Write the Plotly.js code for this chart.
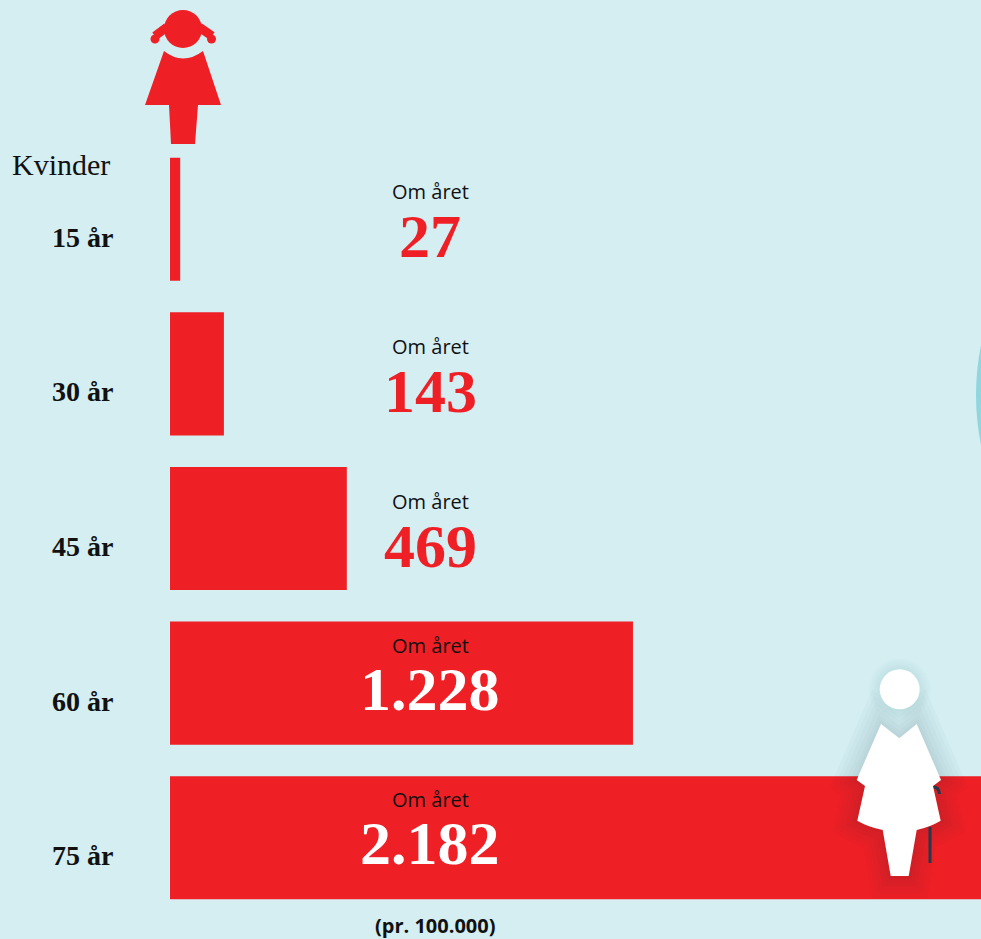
<!DOCTYPE html>
<html>
<head>
<meta charset="utf-8">
<script src="https://cdn.plot.ly/plotly-3.0.1.min.js"></script>
<style>html,body{margin:0;padding:0;background:#D4EEF2;overflow:hidden}#c{width:981px;height:939px}</style>
</head>
<body>
<div id="c"></div>
<script>
const ageLabels = ["15 år", "30 år", "45 år", "60 år", "75 år"];
const casesPerYear = [27, 143, 469, 1228, 2182];
const valueLabels = ["27", "143", "469", "1.228", "2.182"];
const subLabel = "Om året";
const groupLabel = "Kvinder";
const unitLabel = "(pr. 100.000)";

const W = 981, H = 939, L = 170, T = 142, B = 24;
const RED = "#EF1F26", BG = "#D4EEF2";
const SERIF = "'DejaVu Serif', serif", LIB = "'Liberation Serif', serif", SANS = "'Open Sans', sans-serif";
const px = x => (x - L) / (W - L);
const py = y => 1 - (y - T) / (H - T - B);
const path = s => s.replace(/(-?\d+\.?\d*),(-?\d+\.?\d*)/g, (m, a, b) => px(+a) + "," + py(+b));
const pathShape = (s, fill, extra) => Object.assign({type: "path", xref: "paper", yref: "paper", path: path(s), fillcolor: fill, line: {width: 0}}, extra || {});
const circle = (cx, cy, r, fill, extra) => Object.assign({type: "circle", xref: "paper", yref: "paper", x0: px(cx - r), x1: px(cx + r), y0: py(cy + r), y1: py(cy - r), fillcolor: fill, line: {width: 0}}, extra || {});

const xMax = (W - L) / 0.377;
const labelX = 690;

const annotations = [];
ageLabels.forEach((a, i) => {
  const inside = casesPerYear[i] >= 1000;
  annotations.push({xref: "paper", x: px(50), yref: "y", y: a, yshift: -18, xanchor: "left", yanchor: "middle", showarrow: false,
    text: "<b>" + a + "</b>", font: {family: LIB, size: 28, color: "#111"}});
  annotations.push({xref: "x", x: labelX, yref: "y", y: a, yshift: inside ? 38 : 27.5, xanchor: "center", yanchor: "middle", showarrow: false,
    text: subLabel, font: {family: SANS, size: 20, color: "#111"}});
  annotations.push({xref: "x", x: labelX, yref: "y", y: a, yshift: inside ? -5.5 : -17, xanchor: "center", yanchor: "middle", showarrow: false,
    text: "<b>" + valueLabels[i] + "</b>", font: {family: LIB, size: 62, color: inside ? "#FFFFFF" : RED}});
});
annotations.push({xref: "paper", x: px(10), yref: "paper", y: py(164), xanchor: "left", yanchor: "middle", showarrow: false,
  text: groupLabel, font: {family: LIB, size: 30, color: "#111"}});
annotations.push({xref: "paper", x: px(435), yref: "paper", y: py(925), xanchor: "center", yanchor: "middle", showarrow: false,
  text: "<b>" + unitLabel + "</b>", font: {family: SANS, size: 20, color: "#111"}});

const womanBody = "M881,724 L899.3,738.3 L916.7,724 L941,780 L933,786 L940.7,820.7 Q930,827 916.7,830 L908.7,876 L890.7,876 L882.7,830 Q868,827 857.3,820.7 L865,786 L856.7,780 Z";
const shapes = [];
shapes.push(pathShape("M981,345 Q971,395 981,445 Z", "#8FD6DF"));
// soft shadow around the standing figure
[44, 36, 28, 20, 12, 6].forEach(w => {
  shapes.push(pathShape(womanBody, "rgba(0,0,0,0)", {line: {width: w, color: "rgba(20,50,60,0.018)"}}));
  shapes.push(circle(899.7, 689.3, 20 + w / 4, "rgba(20,50,60,0.012)"));
});
// girl
shapes.push(circle(183, 29, 19, RED));
shapes.push(pathShape("M167,27 L155,36", "rgba(0,0,0,0)", {line: {width: 9, color: RED}}));
shapes.push(pathShape("M199,27 L212,36", "rgba(0,0,0,0)", {line: {width: 9, color: RED}}));
shapes.push(circle(155, 39, 4.5, RED));
shapes.push(circle(211.5, 39, 4.5, RED));
shapes.push(pathShape("M164,51 Q183,66 203,51 L221,105 L198,105 L195,144 L171,144 L169,105 L145,105 Z", RED));
// woman with cane
shapes.push(pathShape("M930,827 L930,863", "rgba(0,0,0,0)", {line: {width: 3, color: "#24394A"}}));
shapes.push(pathShape("M933,787 Q939,787 939.5,794", "rgba(0,0,0,0)", {line: {width: 3, color: "#24394A"}}));
shapes.push(pathShape(womanBody, "#FFFFFF"));
shapes.push(circle(899.7, 689.3, 20, "#FFFFFF"));

Plotly.newPlot("c", [{
  type: "bar", orientation: "h", y: ageLabels, x: casesPerYear,
  marker: {color: RED, line: {width: 0}}, hoverinfo: "none"
}], {
  width: W, height: H, margin: {l: L, r: 0, t: T, b: B, pad: 0},
  paper_bgcolor: BG, plot_bgcolor: "rgba(0,0,0,0)", showlegend: false, bargap: 0.204,
  xaxis: {range: [0, xMax], visible: false, fixedrange: true},
  yaxis: {type: "category", autorange: false, range: [4.5, -0.5], visible: false, fixedrange: true},
  annotations, shapes
}, {displayModeBar: false, responsive: false});
</script>
</body>
</html>
